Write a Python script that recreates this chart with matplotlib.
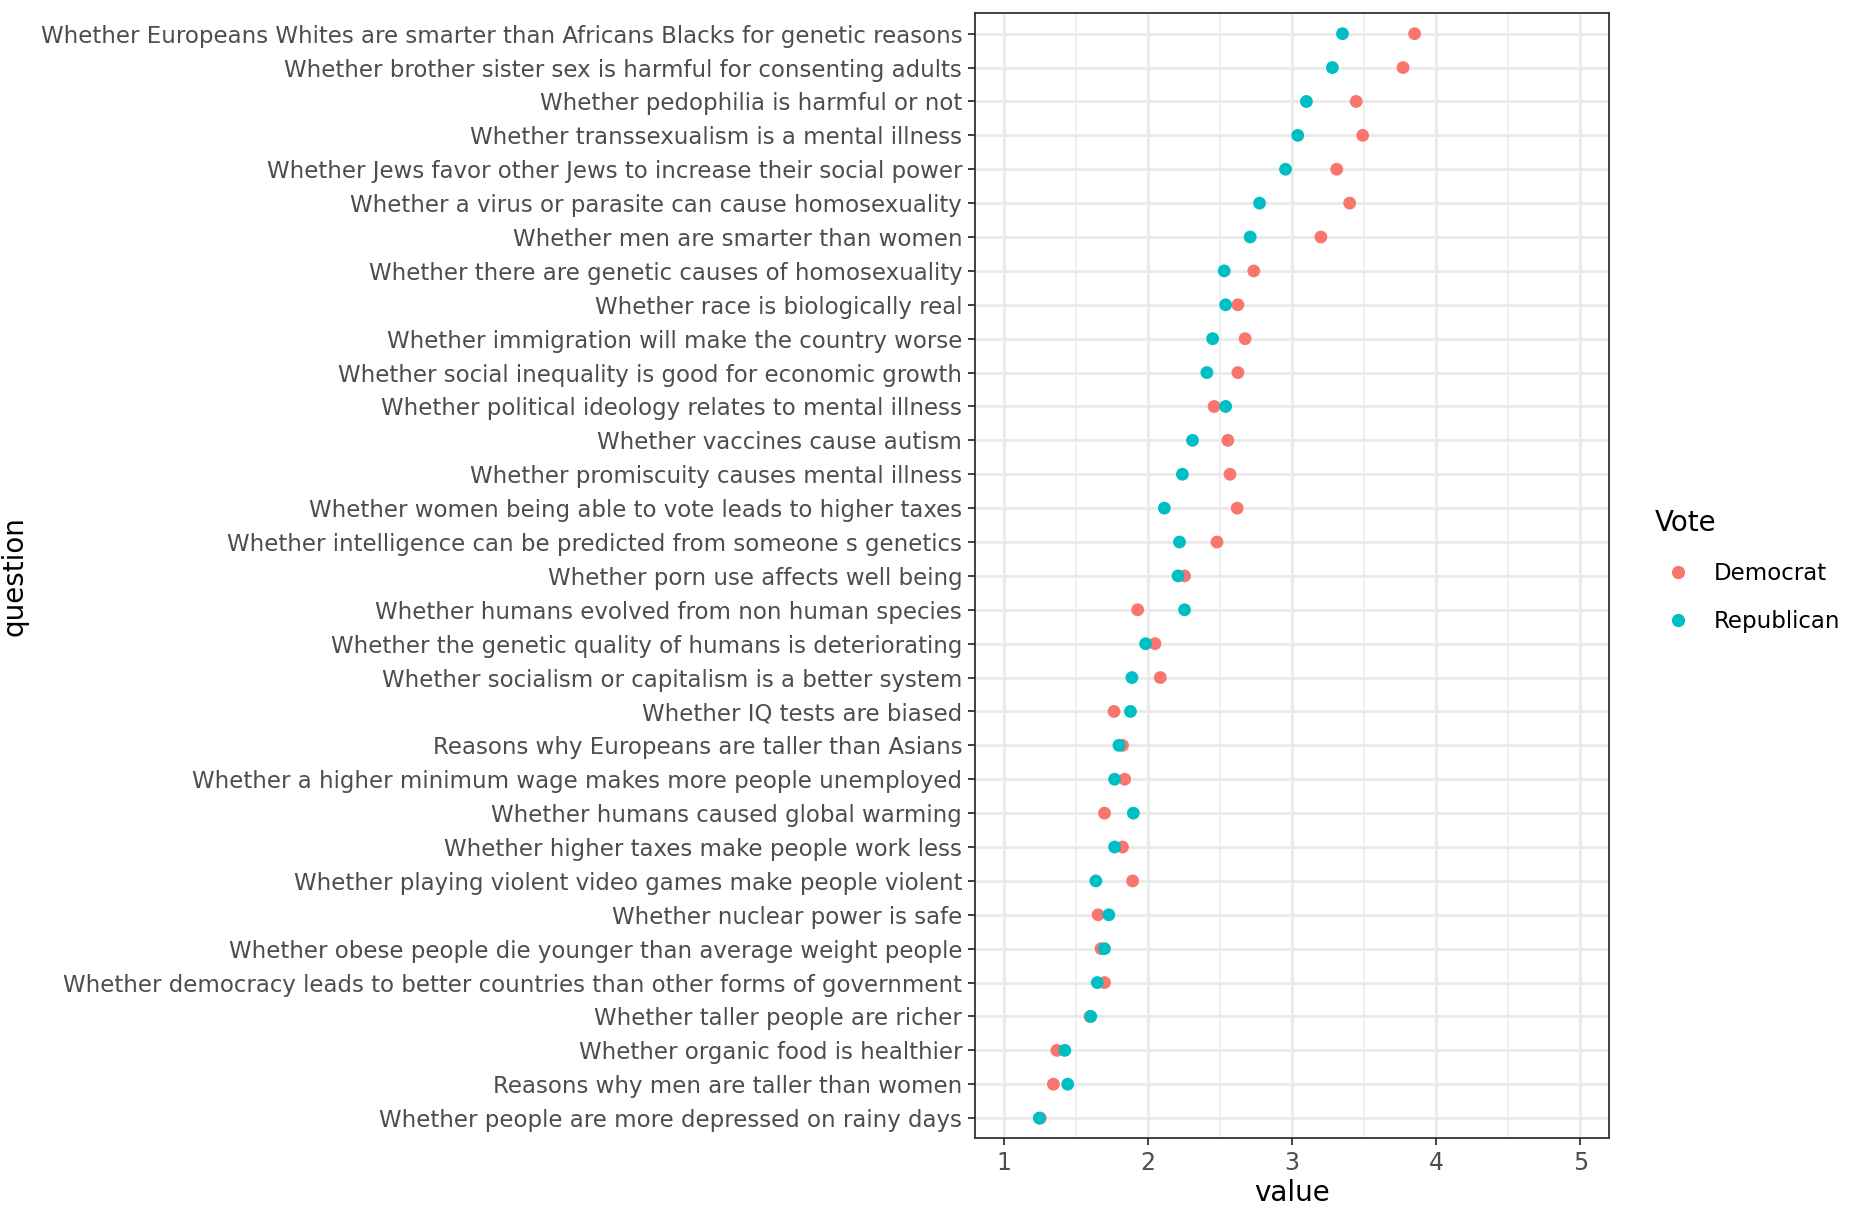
import numpy as np
import matplotlib.pyplot as plt
from matplotlib.lines import Line2D

# questions, top to bottom as in the chart
questions = [
    "Whether Europeans Whites are smarter than Africans Blacks for genetic reasons",
    "Whether brother sister sex is harmful for consenting adults",
    "Whether pedophilia is harmful or not",
    "Whether transsexualism is a mental illness",
    "Whether Jews favor other Jews to increase their social power",
    "Whether a virus or parasite can cause homosexuality",
    "Whether men are smarter than women",
    "Whether there are genetic causes of homosexuality",
    "Whether race is biologically real",
    "Whether immigration will make the country worse",
    "Whether social inequality is good for economic growth",
    "Whether political ideology relates to mental illness",
    "Whether vaccines cause autism",
    "Whether promiscuity causes mental illness",
    "Whether women being able to vote leads to higher taxes",
    "Whether intelligence can be predicted from someone s genetics",
    "Whether porn use affects well being",
    "Whether humans evolved from non human species",
    "Whether the genetic quality of humans is deteriorating",
    "Whether socialism or capitalism is a better system",
    "Whether IQ tests are biased",
    "Reasons why Europeans are taller than Asians",
    "Whether a higher minimum wage makes more people unemployed",
    "Whether humans caused global warming",
    "Whether higher taxes make people work less",
    "Whether playing violent video games make people violent",
    "Whether nuclear power is safe",
    "Whether obese people die younger than average weight people",
    "Whether democracy leads to better countries than other forms of government",
    "Whether taller people are richer",
    "Whether organic food is healthier",
    "Reasons why men are taller than women",
    "Whether people are more depressed on rainy days",
]

democrat = [3.85, 3.77, 3.445, 3.49, 3.31, 3.40, 3.20, 2.735, 2.625, 2.675, 2.625,
            2.46, 2.555, 2.57, 2.62, 2.48, 2.255, 1.93, 2.05, 2.087, 1.766, 1.825,
            1.84, 1.70, 1.825, 1.895, 1.656, 1.676, 1.70, 1.60, 1.37, 1.346, 1.255]
republican = [3.35, 3.28, 3.10, 3.04, 2.955, 2.775, 2.71, 2.53, 2.54, 2.45, 2.41,
              2.54, 2.31, 2.24, 2.115, 2.22, 2.21, 2.255, 1.985, 1.89, 1.88, 1.80,
              1.77, 1.90, 1.77, 1.64, 1.73, 1.70, 1.65, 1.605, 1.425, 1.445, 1.248]

dem_col = '#F8766D'
rep_col = '#00BFC4'

n = len(questions)
ypos = np.arange(n, 0, -1)

fig = plt.figure(figsize=(18.53, 12.15), dpi=100)
ax = fig.add_axes([0.526, 0.063, 0.3425, 0.926])

ax.scatter(democrat, ypos, s=85, color=dem_col, edgecolors='none', zorder=3)
ax.scatter(republican, ypos, s=85, color=rep_col, edgecolors='none', zorder=4)

ax.set_xlim(0.8, 5.2)
ax.set_ylim(0.4, n + 0.6)
ax.set_xticks([1, 2, 3, 4, 5])
ax.set_xticks([1.5, 2.5, 3.5, 4.5], minor=True)
ax.set_yticks(ypos)
ax.set_yticklabels(questions)

ax.grid(True, which='major', color='#EBEBEB', linewidth=2.2, zorder=0)
ax.grid(True, which='minor', axis='x', color='#EBEBEB', linewidth=1.1, zorder=0)
ax.set_axisbelow(True)
for s in ax.spines.values():
    s.set_color('#333333')
    s.set_linewidth(1.3)

ax.tick_params(axis='both', which='major', length=5, width=1.3, color='#333333',
               labelcolor='#4D4D4D', labelsize=16.5, pad=4)
ax.tick_params(axis='x', labelsize=17)
ax.tick_params(axis='both', which='minor', length=0)

ax.set_xlabel('value', fontsize=20, color='black', labelpad=3)
fig.text(0.008, 0.063 + 0.926 / 2, 'question', rotation=90, fontsize=20,
         ha='center', va='center', color='black')

handles = [
    Line2D([], [], marker='o', linestyle='none', markersize=8.5, color=dem_col, label='Democrat'),
    Line2D([], [], marker='o', linestyle='none', markersize=8.5, color=rep_col, label='Republican'),
]
leg = fig.legend(handles=handles, title='Vote', loc='center left',
                 bbox_to_anchor=(0.888, 0.530), frameon=False, fontsize=16.5,
                 title_fontsize=20, handletextpad=0.6, labelspacing=1.1,
                 alignment='left', borderaxespad=0)

fig.savefig('out.png', dpi=100)
